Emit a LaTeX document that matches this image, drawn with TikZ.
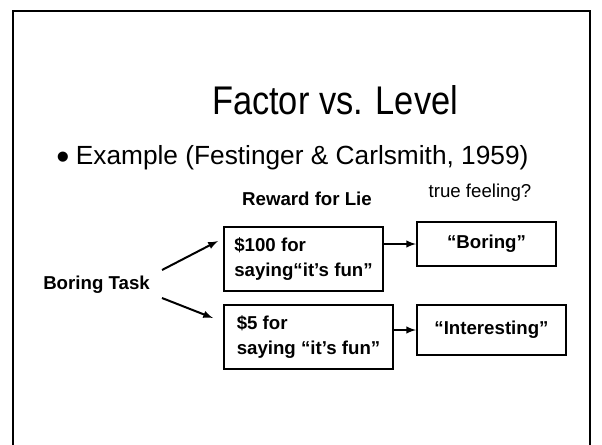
\documentclass[tikz,border=0pt]{standalone}
\usepackage{fontspec}
\setmainfont{Liberation Sans}
\newfontfamily\headfont{Liberation Sans}[FakeStretch=0.86]
\usetikzlibrary{arrows,calc,positioning}

\tikzset{
	lvlbox/.style={draw,rectangle,line width=1.5pt,anchor=north west,align=left,
		font=\bfseries\fontsize{14}{18.5}\selectfont,inner sep=0pt},
	outbox/.style={draw,rectangle,line width=1.5pt,anchor=north west,
		font=\bfseries\fontsize{14}{17}\selectfont,inner sep=0pt},
	lbl/.style={inner sep=0pt,font=\bfseries\fontsize{14}{17}\selectfont},
}

\begin{document}
\begin{tikzpicture}[>=latex,x=0.75pt,y=-0.75pt]
		\useasboundingbox (0,0) rectangle (602,444);
		% slide frame
		\draw[line width=1.8pt] (13,450) -- (13,11) -- (590,11) -- (590,450);

		\node[inner sep=0pt,font=\headfont\fontsize{30}{33}\selectfont] (title) at (335,100) {Factor vs. Level};
		\node[inner sep=0pt,anchor=west,font=\fontsize{19.7}{23}\selectfont] (example) at (56,158)
			{{\fontsize{28}{28}\selectfont\raisebox{-0.12em}{•}}\hspace{0.25em}Example (Festinger \& Carlsmith, 1959)};

		\node[lbl] (reward) at (307,199) {Reward for Lie};
		\node[inner sep=0pt,font=\fontsize{14}{17}\selectfont] (feel) at (480,193) {true feeling?};
		\node[lbl,anchor=west] (task) at (43,285) {Boring Task};

		\node[lvlbox,minimum width=159*0.75pt,minimum height=64*0.75pt] (hundred) at (223,226)
			{\$100 for\\saying“it’s fun”};
		\node[lvlbox,minimum width=169*0.75pt,minimum height=64*0.75pt] (five) at (223,304)
			{\$5 for\\saying “it’s fun”};
		\node[outbox,minimum width=139*0.75pt,minimum height=44*0.75pt] (boring) at (416,221) {“Boring”};
		\node[outbox,minimum width=149*0.75pt,minimum height=50*0.75pt] (interest) at (416,304) {“Interesting”};

		\path[line width=1.5pt]
			($(task.east)+(12,-15)$) edge[->] ($(hundred.north west)+(-5,15)$)
			($(task.east)+(12,13)$) edge[->] ($(five.north west)+(-10,14)$)
			(hundred.east |- boring.west) edge[->] (boring.west)
			(five.east |- interest.west) edge[->] (interest.west)
			;
	\end{tikzpicture}
\end{document}
